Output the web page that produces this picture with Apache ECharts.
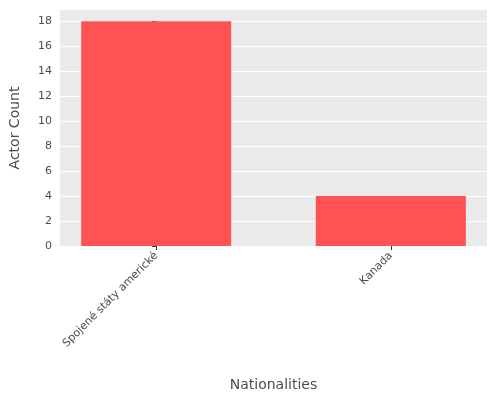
<!DOCTYPE html>
<html>
<head>
<meta charset="utf-8">
<script src="https://cdn.jsdelivr.net/npm/echarts@6/dist/echarts.min.js"></script>
<style>html,body{margin:0;padding:0;background:#fff}#main{width:500px;height:400px}</style>
</head>
<body>
<div id="main"></div>
<script>
const categories = ['Spojené státy americké', 'Kanada'];
const actorCounts = [18, 4];
const yTicks = [0, 2, 4, 6, 8, 10, 12, 14, 16, 18];

const myChart = echarts.init(document.getElementById('main'));

const option = {
  backgroundColor: '#ffffff',
  textStyle: { fontFamily: 'DejaVu Sans' },
  grid: {
    left: 58, right: 13, top: 10, bottom: 154,
    show: true, backgroundColor: '#ebebeb', borderWidth: 0
  },
  xAxis: {
    type: 'value',
    min: -0.41,
    max: 1.41,
    name: 'Nationalities',
    nameLocation: 'middle',
    nameGap: 132,
    nameTextStyle: { color: '#4d4d4d', fontSize: 14 },
    axisLine: { show: false },
    axisTick: { show: true, customValues: [0, 1], lineStyle: { color: '#333' }, length: 4 },
    splitLine: { show: false },
    axisLabel: {
      customValues: [0, 1],
      rotate: 45,
      color: '#4d4d4d',
      fontSize: 11,
      formatter: v => categories[Math.round(v)] || ''
    }
  },
  yAxis: {
    type: 'value',
    min: 0,
    max: 18.9,
    name: 'Actor Count',
    nameLocation: 'middle',
    nameGap: 38,
    nameTextStyle: { color: '#4d4d4d', fontSize: 14 },
    axisLine: { show: false },
    axisTick: { show: true, customValues: yTicks, lineStyle: { color: '#333' }, length: 4 },
    splitLine: { show: true, lineStyle: { color: '#ffffff', width: 1 } },
    axisLabel: { customValues: yTicks, color: '#4d4d4d', fontSize: 11 }
  },
  series: [{
    type: 'bar',
    data: actorCounts.map((v, i) => [i, v]),
    barWidth: 150,
    itemStyle: { color: '#ff5252' },
    silent: true
  }]
};

myChart.setOption(option);
</script>
</body>
</html>
